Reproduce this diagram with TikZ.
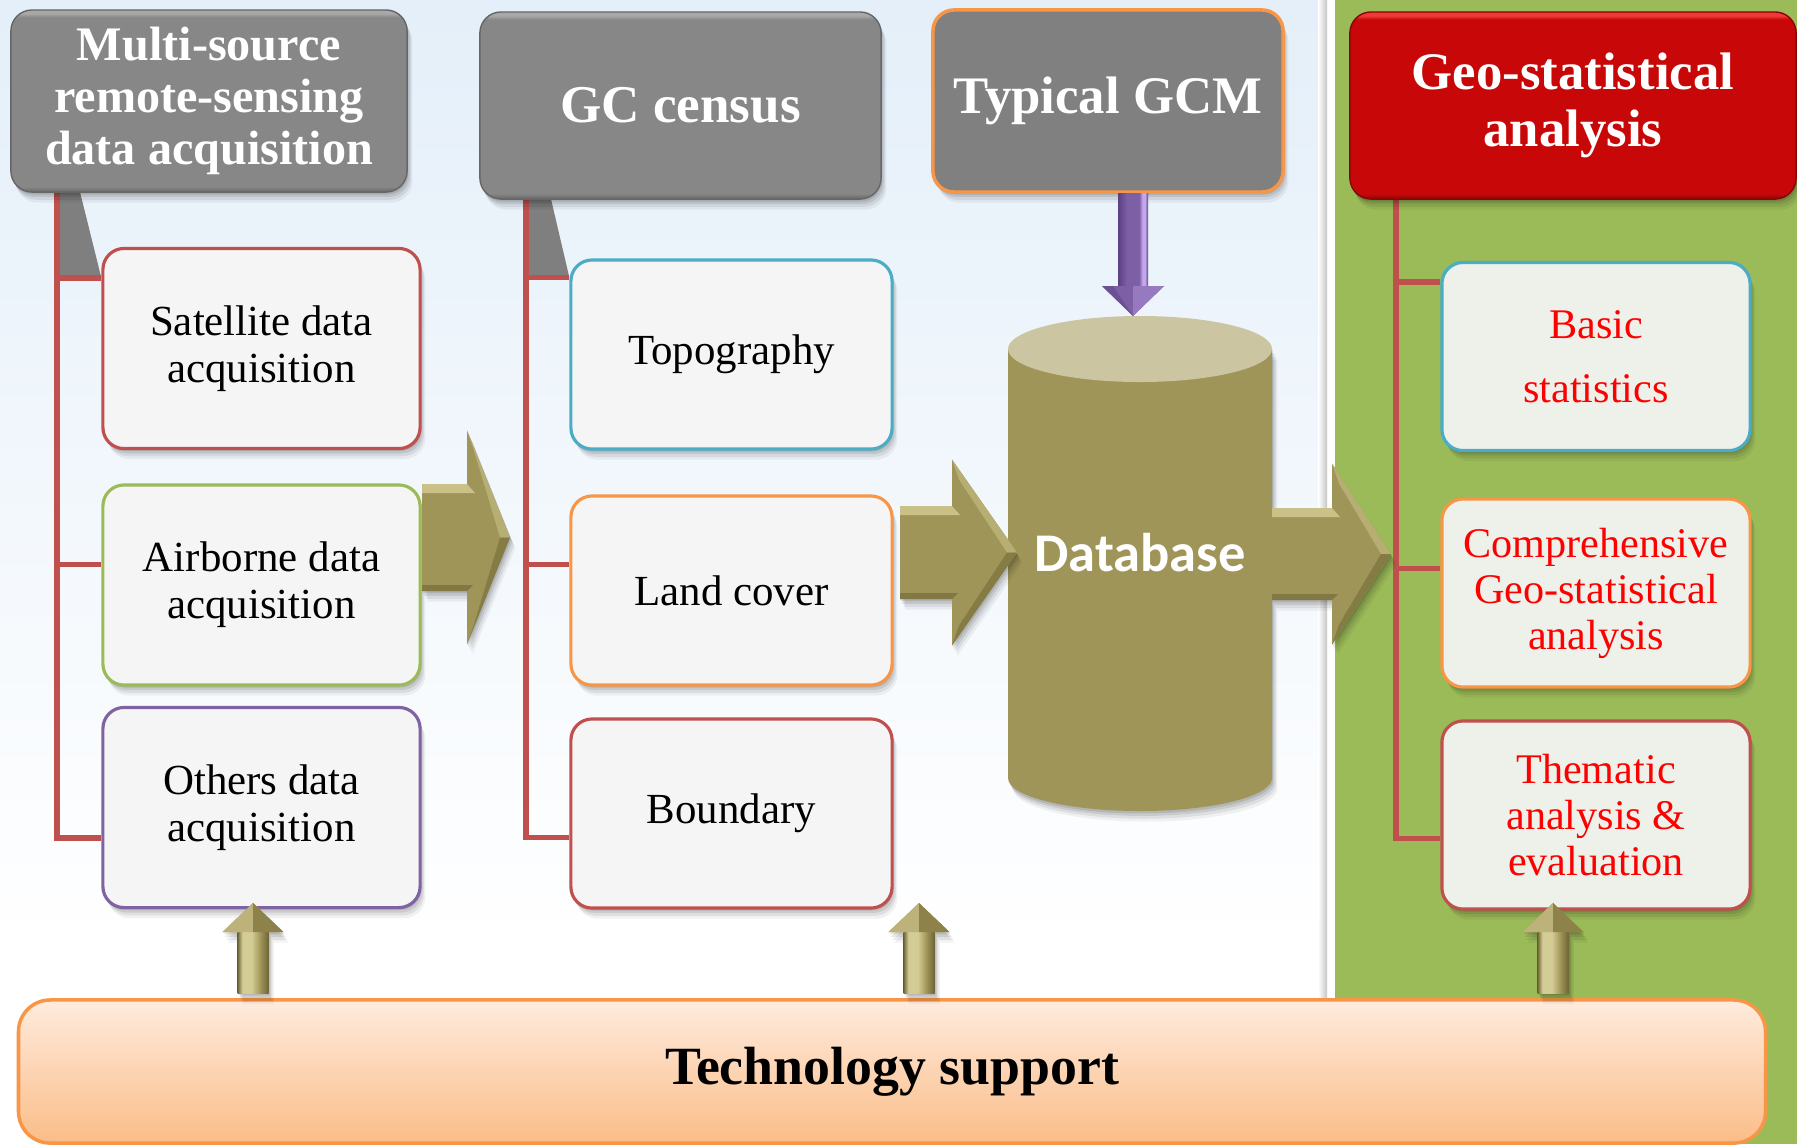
\documentclass[tikz,border=0pt]{standalone}
\usepackage{fontspec}
\setmainfont{Liberation Serif}
\newfontfamily\dbfont{Carlito}
\usetikzlibrary{calc}

\definecolor{bgtop}{HTML}{E4EFF9}
\definecolor{panelgreen}{HTML}{9BBB59}
\definecolor{linkred}{HTML}{C0504D}
\definecolor{wedgegray}{HTML}{7F7F7F}
\definecolor{hdrgray}{HTML}{878787}
\definecolor{hdrgrayL}{HTML}{A8A8A8}
\definecolor{hdrgrayD}{HTML}{666666}
\definecolor{hdrred}{HTML}{C80808}
\definecolor{hdrredL}{HTML}{F03A3A}
\definecolor{hdrredD}{HTML}{8A0505}
\definecolor{gcmgray}{HTML}{808080}
\definecolor{accorange}{HTML}{F79646}
\definecolor{accblue}{HTML}{4BACC6}
\definecolor{accgreen}{HTML}{9BBB59}
\definecolor{accpurple}{HTML}{8064A2}
\definecolor{accred}{HTML}{C0504D}
\definecolor{boxfill}{HTML}{F5F5F5}
\definecolor{boxfillR}{HTML}{EEF0EA}
\definecolor{olive}{HTML}{A09558}
\definecolor{oliveL}{HTML}{D4CC95}
\definecolor{oliveD}{HTML}{6E6536}
\definecolor{dbtop}{HTML}{CBC5A2}
\definecolor{purpM}{HTML}{7D5FA6}
\definecolor{purpL}{HTML}{C4A8EE}
\definecolor{purpD}{HTML}{5A4082}
\definecolor{techtop}{HTML}{FEEBDE}
\definecolor{techbot}{HTML}{FBBD88}

% bevelled header fills: dark bottom rim, flat body, light top rim
\pgfdeclareverticalshading{graybevel}{100bp}{color(0bp)=(hdrgrayD); color(25bp)=(hdrgrayD); color(26.5bp)=(hdrgray); color(73bp)=(hdrgray); color(74bp)=(hdrgrayL); color(100bp)=(hdrgrayL)}
\pgfdeclareverticalshading{redbevel}{100bp}{color(0bp)=(hdrredD); color(25bp)=(hdrredD); color(26.5bp)=(hdrred); color(73bp)=(hdrred); color(74bp)=(hdrredL); color(100bp)=(hdrredL)}
% rounded shafts of the small arrows
\pgfdeclarehorizontalshading{oliveshaft}{100bp}{color(0bp)=(oliveD); color(25bp)=(oliveD); color(33bp)=(oliveL); color(48bp)=(oliveL); color(62bp)=(olive); color(75bp)=(oliveD); color(100bp)=(oliveD)}
\pgfdeclarehorizontalshading{purpshaft}{100bp}{color(0bp)=(purpD); color(25bp)=(purpD); color(40bp)=(purpM); color(60bp)=(purpM); color(66bp)=(purpL); color(70bp)=(purpL); color(75bp)=(purpD); color(100bp)=(purpD)}

\pgfdeclarelayer{bg}
\pgfdeclarelayer{links}
\pgfsetlayers{bg,links,main}

% soft drop shadow built from a few offset translucent copies of the path
\tikzset{
  softshadow/.style={
    preaction={fill=black, fill opacity=0.10, transform canvas={xshift=0.3pt, yshift=-0.7pt}},
    preaction={fill=black, fill opacity=0.09, transform canvas={xshift=0.7pt, yshift=-1.4pt}},
    preaction={fill=black, fill opacity=0.07, transform canvas={xshift=1.1pt, yshift=-2.2pt}},
    preaction={fill=black, fill opacity=0.05, transform canvas={xshift=1.5pt, yshift=-3.0pt}}}
}

% big bevelled block arrow: x0, head base x, tip x, centre y, shaft half height, head half height
\newcommand\olivearrow[6]{%
  \fill[olive, softshadow]
    ({#1},{#4-#5}) -- ({#2},{#4-#5}) -- ({#2},{#4-#6}) -- ({#3},{#4}) -- ({#2},{#4+#6}) -- ({#2},{#4+#5}) -- ({#1},{#4+#5}) -- cycle;
  \fill[oliveL!80!olive] ({#1},{#4-#5}) -- ({#2},{#4-#5}) -- ({#2+8},{#4-#5+9}) -- ({#1},{#4-#5+9}) -- cycle;
  \fill[oliveD!60!olive] ({#1},{#4+#5}) -- ({#2},{#4+#5}) -- ({#2+6},{#4+#5-6}) -- ({#1},{#4+#5-6}) -- cycle;
  \fill[oliveL!45!olive] ({#2},{#4-#6}) -- ({#3},{#4}) -- ({#3-10},{#4}) -- ({#2+7},{#4-#6+20}) -- cycle;
  \fill[oliveD!55!olive] ({#2},{#4+#6}) -- ({#3},{#4}) -- ({#3-10},{#4}) -- ({#2+7},{#4+#6-20}) -- cycle;
}

% small upward arrow from coordinate #1 (base) to coordinate #2 (tip)
\newcommand\supportarrow[2]{%
  \fill[olive, softshadow]
    ($(#1)+(-15.5,0)$) -- ($(#2)+(-15.5,29)$) -- ($(#2)+(-30.5,29)$) -- (#2) -- ($(#2)+(30.5,29)$) -- ($(#2)+(15.5,29)$) -- ($(#1)+(15.5,0)$) -- cycle;
  \shade[shading=oliveshaft] ($(#1)+(-15.5,0)$) rectangle ($(#2)+(15.5,29)$);
  \fill[oliveL!55!olive] ($(#2)+(-30.5,29)$) -- (#2) -- ($(#2)+(0,29)$) -- cycle;
  \fill[oliveD!40!olive] ($(#2)+(30.5,29)$) -- (#2) -- ($(#2)+(0,29)$) -- cycle;
}

\begin{document}
\begin{tikzpicture}[x=0.01cm, y=-0.01cm,
  hdrbase/.style={rounded corners=6pt, inner sep=0pt, align=center, text=white, softshadow},
  hdrgray/.style={hdrbase, shade, shading=graybevel, draw=hdrgrayD, line width=0.4pt},
  hdrred/.style={hdrbase, shade, shading=redbevel, draw=hdrredD, line width=0.4pt},
  hdrgcm/.style={hdrbase, fill=gcmgray, draw=accorange, line width=1pt},
  leaf/.style={rounded corners=6pt, fill=boxfill, line width=0.9pt, align=center, inner sep=0pt,
    font=\fontsize{12.2}{13.4}\selectfont, softshadow},
  leafL/.style={leaf, minimum width=3.17cm, minimum height=2.0cm},
  leafM/.style={leaf, minimum width=3.21cm, minimum height=1.89cm},
  leafR/.style={leaf, fill=boxfillR, text=red, minimum width=3.08cm, minimum height=1.88cm,
    font=\fontsize{12}{13.1}\selectfont},
  link/.style={draw=linkred, line width=1.5pt, line join=miter},
  wedge/.style={fill=wedgegray}
]
\useasboundingbox (0,0) rectangle (1797,1144);

% ---------- backdrop: pale blue field and green analysis panel ----------
\begin{pgfonlayer}{bg}
  \fill[white] (0,0) rectangle (1797,1144);
  \shade[top color=bgtop, bottom color=white] (0,0) rectangle (1322,950);
  \shade[left color=white, right color=gray!45] (1318,0) rectangle (1327,1144);
  \fill[panelgreen] (1335,0) rectangle (1797,1144);
\end{pgfonlayer}

% ---------- headers ----------
\node[hdrgray, minimum width=3.96cm, minimum height=1.82cm,
      font=\fontsize{13.7}{14.8}\selectfont\bfseries] (h1) at (209,101)
      {Multi-source\\remote-sensing\\data acquisition};
\node[hdrgray, minimum width=4.01cm, minimum height=1.87cm,
      font=\fontsize{15.1}{17}\selectfont\bfseries] (h2) at (680.5,105.5) {GC census};
\node[hdrgcm, minimum width=3.50cm, minimum height=1.82cm,
      font=\fontsize{15}{17}\selectfont\bfseries] (h3) at (1108,101) {Typical GCM};
\node[hdrred, minimum width=4.46cm, minimum height=1.87cm,
      font=\fontsize{15}{16}\selectfont\bfseries] (h4) at (1573,105.5) {Geo-statistical\\analysis};

% ---------- data sources ----------
\node[leafL, draw=accred]    (s1) at (261.5,348.5) {Satellite data\\acquisition};
\node[leafL, draw=accgreen]  (s2) at (261.5,585)   {Airborne data\\acquisition};
\node[leafL, draw=accpurple] (s3) at (261.5,807.5) {Others data\\acquisition};

% ---------- census layers ----------
\node[leafM, draw=accblue]   (t1) at (731.5,354.5) {Topography};
\node[leafM, draw=accorange] (t2) at (731.5,590.5) {Land cover};
\node[leafM, draw=accred]    (t3) at (731.5,813.5) {Boundary};

% ---------- analysis items ----------
\node[leafR, draw=accblue, font=\fontsize{12}{18.2}\selectfont] (r1) at (1596,356.5) {Basic\\statistics};
\node[leafR, draw=accorange] (r2) at (1596,593) {Comprehensive\\Geo-statistical\\analysis};
\node[leafR, draw=accred]    (r3) at (1596,815) {Thematic\\analysis \&\\evaluation};

% ---------- technology support band ----------
\node[rounded corners=9pt, top color=techtop, bottom color=techbot, draw=accorange, line width=1pt,
      minimum width=17.46cm, minimum height=1.43cm, inner sep=0pt,
      font=\fontsize{15.3}{18}\selectfont\bfseries] (tech) at (892,1071.5) {Technology support};

% ---------- database cylinder ----------
\fill[olive, softshadow]
  (1008,349) -- (1008,778) arc[start angle=180, end angle=0, x radius=132, y radius=33] -- (1272,349) -- cycle;
\fill[dbtop] (1140,349) ellipse[x radius=132, y radius=33];
\coordinate (dbcap) at (1133,316);
\node[font={\dbfont\fontsize{15.5}{18}\selectfont\bfseries}, text=white] (db) at (1140,553) {Database};

% ---------- flow arrows ----------
\olivearrow{422}{467}{510}{537.5}{53.5}{107}
\olivearrow{900}{952}{1017}{552.5}{46.5}{93}
\olivearrow{1272}{1332}{1391}{554}{46}{90.5}

% GCM feeds the database
\coordinate (gcmfoot) at ($(h3.south)+(25,0)$);
\shade[shading=purpshaft] ($(gcmfoot)+(-15,0)$) rectangle ($(dbcap)+(15,-30)$);
\fill[purpM] ($(dbcap)+(-31,-30)$) -- (dbcap) -- ($(dbcap)+(31,-30)$) -- cycle;
\fill[purpL!35!purpM] ($(dbcap)+(0,-30)$) -- (dbcap) -- ($(dbcap)+(31,-30)$) -- cycle;
\fill[purpD!50!purpM] ($(dbcap)+(-31,-30)$) -- ($(dbcap)+(-20,-30)$) -- (dbcap) -- cycle;

% technology support lifts each stage
\coordinate (ub1) at (253,993);  \coordinate (ut1) at (253,903);
\coordinate (ub2) at (919,993);  \coordinate (ut2) at (919,903);
\coordinate (ub3) at (1553,993); \coordinate (ut3) at (1553,903);
\supportarrow{ub1}{ut1}
\supportarrow{ub2}{ut2}
\supportarrow{ub3}{ut3}

% ---------- tree connectors ----------
\begin{pgfonlayer}{links}
  \coordinate (l1x) at (57,0);
  \coordinate (l2x) at (526,0);
  \coordinate (l3x) at (1396,0);
  \coordinate (s1b) at ($(s1.north west)+(0,31)$);
  \coordinate (s2b) at ($(s2.north west)+(0,81)$);
  \coordinate (s3b) at ($(s3.north west)+(0,132)$);
  \coordinate (t1b) at ($(t1.north west)+(0,19)$);
  \coordinate (t2b) at ($(t2.north west)+(0,70)$);
  \coordinate (t3b) at ($(t3.north west)+(0,120)$);
  \coordinate (r1b) at ($(r1.north west)+(0,21)$);
  \coordinate (r2b) at ($(r2.north west)+(0,71)$);
  \coordinate (r3b) at ($(r3.north west)+(0,119)$);

  \fill[wedge] (h1.south -| l1x) -- (80,192) -- (s1b) -- (l1x |- s1b) -- cycle;
  \fill[wedge] (h2.south -| l2x) -- (551,199) -- (t1b) -- (l2x |- t1b) -- cycle;

  \draw[link] (h1.south -| l1x) -- (l1x |- s3b) -- (s3b);
  \draw[link] (l1x |- s1b) -- (s1b);
  \draw[link] (l1x |- s2b) -- (s2b);

  \draw[link] (h2.south -| l2x) -- (l2x |- t3b) -- (t3b);
  \draw[link] (l2x |- t1b) -- (t1b);
  \draw[link] (l2x |- t2b) -- (t2b);

  \draw[link] (h4.south -| l3x) -- (l3x |- r3b) -- (r3b);
  \draw[link] (l3x |- r1b) -- (r1b);
  \draw[link] (l3x |- r2b) -- (r2b);
\end{pgfonlayer}
\end{tikzpicture}
\end{document}
